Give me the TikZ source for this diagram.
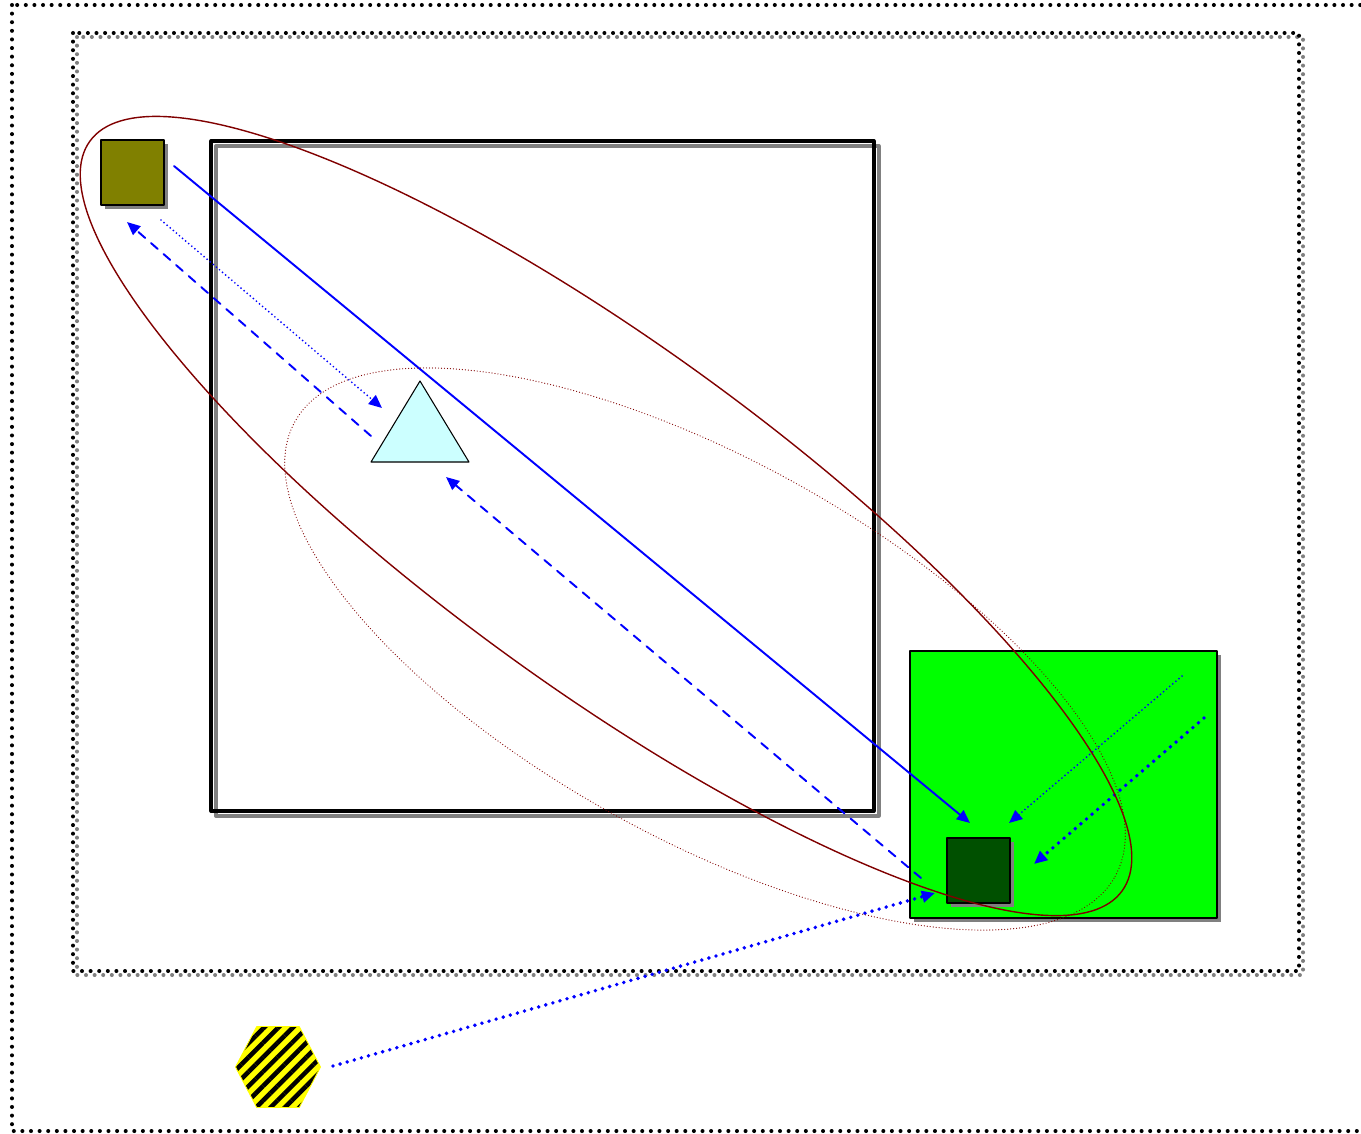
\documentclass[tikz,border=0pt]{standalone}
\usepackage{xcolor}
\usepackage{tikz}
\usetikzlibrary{arrows.meta,calc,shapes.geometric,shadows,patterns.meta}
\definecolor{linkblue}{HTML}{0000FF}
\definecolor{maroonline}{HTML}{800000}
\definecolor{olivebox}{HTML}{808000}
\definecolor{deepgreen}{HTML}{005000}
\definecolor{limepad}{HTML}{00FF00}
\definecolor{icecyan}{HTML}{CCFFFF}
\definecolor{hazardyellow}{HTML}{FFFF00}
\definecolor{shadowgray}{HTML}{808080}
\tikzset{
    every picture/.style={line cap=round,line join=round},
    framedots/.style={line width=2.3pt,dash pattern=on 0pt off 4.9pt},
    boxshadow/.style={general shadow={fill=shadowgray,shadow xshift=2.5pt,shadow yshift=-2.5pt}},
    board/.style={draw=black,line width=2.3pt,minimum width=13.25cm,minimum height=13.4cm,
      inner sep=0pt,outer sep=0pt,
      general shadow={draw=shadowgray,line width=2.3pt,shadow xshift=2.8pt,shadow yshift=-2.8pt}},
    tile/.style={draw=black,line width=1.1pt,minimum width=1.26cm,minimum height=1.3cm,
      inner sep=0pt,outer sep=0pt,boxshadow},
    pad/.style={draw=black,fill=limepad,line width=1.3pt,minimum width=6.14cm,minimum height=5.34cm,
      inner sep=0pt,outer sep=0pt,boxshadow},
    prismface/.style={draw=black,fill=icecyan,line width=0.6pt},
    hexpad/.style={regular polygon,regular polygon sides=6,minimum size=1.7cm,inner sep=0pt,yscale=1.1,
      draw=hazardyellow,line width=0.5pt,preaction={fill=hazardyellow},
      pattern={Lines[angle=45,distance=5.8pt,line width=2.6pt]},pattern color=black},
    wideloop/.style={ellipse,draw=maroonline,line width=0.8pt,inner sep=0pt},
    narrowloop/.style={ellipse,draw=maroonline,line width=0.7pt,dash pattern=on 0pt off 1.7pt,inner sep=0pt},
    link/.style={->,draw=linkblue,line width=1.1pt},
    dashlink/.style={link,dash pattern=on 5pt off 4.5pt},
    finedots/.style={link,line width=1.1pt,dash pattern=on 0pt off 2.3pt},
    heavydots/.style={link,line width=2.2pt,dash pattern=on 0pt off 4.2pt}
}
\begin{document}
\begin{tikzpicture}[x=0.02cm,y=-0.02cm,>={Triangle[length=7.5pt,width=6.5pt]}]
    \useasboundingbox (0,0) rectangle (1361,1133);
    \draw[framedots] (12,5) rectangle (1368,1131);
    \draw[framedots,shadowgray] (77,37) rectangle (1303,975);
    \draw[framedots] (73,33) rectangle (1299,971);
    \node[board] (board) at (542.5,476) {};
    \node[tile,fill=olivebox] (seed) at (132.5,172.5) {};
    \node[pad] (pad) at (1063.5,784.5) {};
    \node[tile,fill=deepgreen] (target) at (978.5,870.5) {};
    \coordinate (prism) at (420,430);
    \draw[prismface] ($(prism)+(-49,32)$) -- ($(prism)+(49,32)$) -- ($(prism)+(0,-49)$) -- cycle;
    \node[hexpad] (hazard) at (278,1067) {};
    \draw[link] ($(seed)+(41.5,-6.5)$) -- ($(target)+(-8.5,-47.5)$);
    \draw[finedots] ($(seed)+(28.5,47.5)$) -- ($(prism)+(-38,-22)$);
    \draw[dashlink] ($(prism)+(-49,6)$) -- ($(seed)+(-5.5,49.5)$);
    \draw[dashlink] ($(target)+(-57.5,7.5)$) -- ($(prism)+(26,47)$);
    \draw[finedots] ($(pad)+(118.5,-108.5)$) -- ($(target)+(30.5,-47.5)$);
    \draw[heavydots] ($(pad)+(140.5,-66.5)$) -- ($(target)+(55.5,-6.5)$);
    \draw[heavydots] ($(hazard)+(55,-1)$) -- ($(target)+(-43.5,22.5)$);
    \node[wideloop,minimum width=25.52cm,minimum height=6.82cm,rotate=-36] (orbit) at (606,516) {};
    \node[narrowloop,minimum width=18.76cm,minimum height=7.56cm,rotate=-29] (halo) at (705,649) {};
\end{tikzpicture}
\end{document}
